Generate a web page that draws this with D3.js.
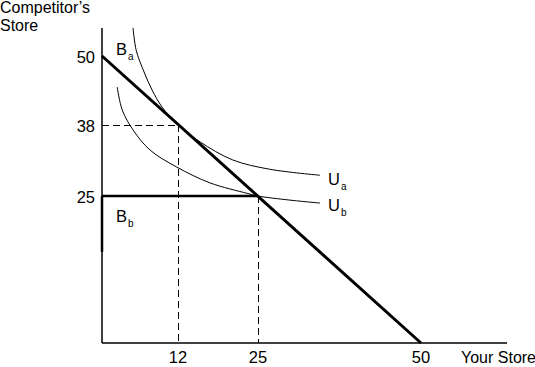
<!DOCTYPE html>
<html><head><meta charset="utf-8">
<script src="https://d3js.org/d3.v7.min.js"></script>
<style>body{margin:0;background:#fff}svg{display:block}</style>
</head><body>
<script>
// ---- data ----
const xTicks = [12, 25, 50];
const yTicks = [25, 38, 50];
const budgetA = [[0, 50], [50, 0]];
const budgetB = [[0, 25], [25, 25]];
const budgetBAxis = [[0, 25], [0, 15.5]];
const curveUa = [[4.9, 54.9], [5.4, 51.0], [6.5, 47.6], [7.9, 44.1], [9.5, 41.1], [12, 38], [15.6, 34.9], [20.9, 31.6], [26.8, 29.9], [34.5, 28.8]];
const curveUb = [[2.4, 44.6], [3.2, 40.6], [4.9, 37.1], [7.6, 33.4], [11.8, 30.3], [17.2, 27.4], [23.2, 25.5], [25, 25], [29.9, 24.3], [34.5, 23.8]];
const guideA = {x: 12, y: 38};
const guideB = {x: 25, y: 25};

const W = 535, H = 367;
const font = "'Liberation Sans Narrow','Arial Narrow','Liberation Sans',sans-serif";
const svg = d3.select("body").append("svg").attr("width", W).attr("height", H);

const x = d3.scaleLinear().domain([0, 12, 25, 50]).range([102, 178, 258, 421]);
const y = d3.scaleLinear().domain([0, 25, 38, 50]).range([343, 196, 125, 56]);

// axes
svg.append("line").attr("x1", x(0)).attr("x2", x(0)).attr("y1", 28).attr("y2", y(0))
  .attr("stroke", "#000").attr("stroke-width", 1.5);
svg.append("line").attr("x1", x(0)).attr("x2", 507).attr("y1", y(0)).attr("y2", y(0))
  .attr("stroke", "#000").attr("stroke-width", 1.5);

// tick labels
svg.selectAll(".xt").data(xTicks).enter().append("text")
  .attr("x", d => x(d)).attr("y", 363).attr("text-anchor", "middle")
  .attr("font-family", font).attr("font-size", 16.5).text(d => d);
svg.selectAll(".yt").data(yTicks).enter().append("text")
  .attr("x", 95).attr("y", d => y(d) + 7).attr("text-anchor", "end")
  .attr("font-family", font).attr("font-size", 16.5).text(d => d);

// axis titles
svg.append("text").attr("x", 0).attr("y", 13).attr("font-family", font).attr("font-size", 16).text("Competitor’s");
svg.append("text").attr("x", 0).attr("y", 31).attr("font-family", font).attr("font-size", 16).text("Store");
svg.append("text").attr("x", 461).attr("y", 363).attr("font-family", font).attr("font-size", 16).text("Your Store");

// dashed guides
function dashed(x1, y1, x2, y2) {
  svg.append("line").attr("x1", x1).attr("y1", y1).attr("x2", x2).attr("y2", y2)
    .attr("stroke", "#000").attr("stroke-width", 1).attr("stroke-dasharray", "7,4")
    .attr("shape-rendering", "crispEdges");
}
dashed(x(0), y(guideA.y), x(guideA.x), y(guideA.y));
dashed(x(guideA.x), y(guideA.y), x(guideA.x), y(0));
dashed(x(guideB.x), y(guideB.y), x(guideB.x), y(0));

// indifference curves
const curve = d3.line().x(d => x(d[0])).y(d => y(d[1])).curve(d3.curveCatmullRom.alpha(0.5));
svg.append("path").attr("d", curve(curveUa)).attr("fill", "none").attr("stroke", "#000").attr("stroke-width", 1);
svg.append("path").attr("d", curve(curveUb)).attr("fill", "none").attr("stroke", "#000").attr("stroke-width", 1);

// budget lines
const straight = d3.line().x(d => x(d[0])).y(d => y(d[1]));
svg.append("path").attr("d", straight(budgetA)).attr("fill", "none").attr("stroke", "#000").attr("stroke-width", 3);
svg.append("path").attr("d", straight(budgetB)).attr("fill", "none").attr("stroke", "#000").attr("stroke-width", 2.5);
svg.append("path").attr("d", straight(budgetBAxis)).attr("fill", "none").attr("stroke", "#000").attr("stroke-width", 2.5);

// labels with subscripts
function sublabel(px, py, main, sub) {
  const t = svg.append("text").attr("x", px).attr("y", py).attr("font-family", font).attr("font-size", 16.5);
  t.append("tspan").text(main);
  t.append("tspan").attr("font-size", 10).attr("dy", 5).attr("dx", 1).text(sub);
}
sublabel(116, 55, "B", "a");
sublabel(116, 222, "B", "b");
sublabel(328, 185, "U", "a");
sublabel(328, 211, "U", "b");
</script>
</body></html>
